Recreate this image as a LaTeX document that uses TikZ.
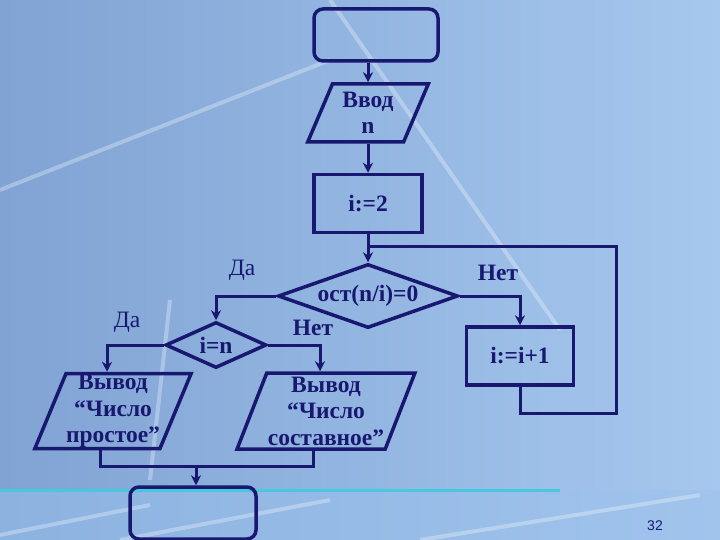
\documentclass[tikz,border=0pt]{standalone}
\usepackage{fontspec}
\setmainfont{Liberation Serif}
\setsansfont{Liberation Sans}
\usepackage{tikz}
\usetikzlibrary{positioning,shapes.geometric,arrows.meta}

\definecolor{navy}{RGB}{24,24,112}
\definecolor{slideleft}{RGB}{128,163,212}
\definecolor{slideright}{RGB}{166,200,238}
\definecolor{bandleft}{RGB}{140,178,224}
\definecolor{bandright}{RGB}{160,196,236}
\definecolor{bandline}{RGB}{70,200,225}

\begin{document}
\begin{tikzpicture}[x=1pt, y=-1pt,
    >={Stealth[length=10pt,width=10pt]},
    flow/.style={
      draw=navy, line width=3.5pt, text=navy, align=center, inner sep=0pt,
      font=\bfseries\fontsize{23.5}{26.5}\selectfont
    },
    term/.style={flow, rounded corners=9pt, minimum width=124pt, minimum height=52pt},
    proc/.style={flow, minimum width=108pt, minimum height=58pt},
    io/.style={flow, trapezium, trapezium left angle=67, trapezium right angle=113,
               trapezium stretches=true},
    test/.style={flow, diamond, aspect=2.6},
    link/.style={draw=navy, line width=3pt},
    lbl/.style={text=navy, font=\fontsize{23.5}{26.5}\selectfont},
    streak/.style={white, opacity=0.3, line width=4pt}
  ]

  % ===== Slide background =====
  \useasboundingbox (0,0) rectangle (720,540);
  \shade[left color=slideleft, right color=slideright] (0,0) rectangle (720,490);
  \shade[left color=bandleft, right color=bandright] (0,490) rectangle (720,540);
  \draw[bandline, line width=3pt] (0,490) -- (560,490);
  \draw[streak] (330,0) -- (560,330);
  \draw[streak] (0,190) -- (330,60);
  \draw[streak] (170,300) -- (150,480);
  \draw[streak] (0,535) -- (150,505);
  \draw[streak] (120,540) -- (330,500);
  \draw[streak] (420,540) -- (700,495);

  % ===== Blocks =====
  \node[term] (start) at (376,35) {};
  \node[io, minimum width=121pt, minimum height=58pt] (input) at (368,113) {Ввод\\n};
  \node[proc, below=29pt of input] (init) {i:=2};
  \node[test, minimum width=180pt, minimum height=64pt, below=28pt of init] (cond) {ост(n/i)=0};
  \node[test, minimum width=101pt, minimum height=46pt] (check) at (216,345) {i=n};
  \node[proc, minimum width=107pt] (incr) at (520,356) {i:=i+1};
  \node[io, minimum width=155pt, minimum height=75pt] (prime) at (113,411)
    {Вывод\\“Число\\простое”};
  \node[io, minimum width=178pt, minimum height=76pt] (comp) at (326,411)
    {Вывод\\“Число\\составное”};
  \node[term, minimum width=126pt] (stop) at (193,513) {};

  % ===== Connectors =====
  \draw[link, ->] (start.south -| input.north) -- (input.north);
  \draw[link, ->] (input.south) -- (init.north);
  \draw[link, ->] (init.south) -- (cond.north);
  \draw[link, ->] (cond.west) -| (check.north);
  \draw[link, ->] (cond.east) -| (incr.north);
  \draw[link, ->] (check.west) -| ([xshift=-6pt]prime.north);
  \draw[link, ->] (check.east) -| ([xshift=-6pt]comp.north);

  % loop back to the test
  \coordinate (join) at (368,246);
  \coordinate (back) at (616,413);
  \draw[link] (incr.south) |- (back) |- (join);

  % both outputs join before the end
  \coordinate (merge) at (196,466);
  \draw[link] ([xshift=-13pt]prime.south) |- (merge) -| ([xshift=-13pt]comp.south);
  \draw[link, ->] (merge) -- (merge |- stop.north);

  % ===== Branch labels =====
  \node[lbl] (yes1) at (242,270) {Да};
  \node[lbl, font=\bfseries\fontsize{23.5}{26.5}\selectfont] (no1) at (498,273) {Нет};
  \node[lbl] (yes2) at (127,322) {Да};
  \node[lbl, font=\bfseries\fontsize{23.5}{26.5}\selectfont] (no2) at (313,328) {Нет};

  % slide number
  \node[text=navy, font=\sffamily\fontsize{14}{16}\selectfont] (page) at (655,526) {32};

\end{tikzpicture}
\end{document}
